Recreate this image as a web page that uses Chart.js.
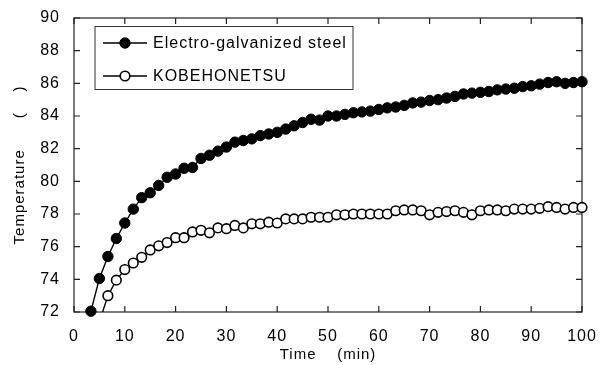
<!DOCTYPE html>
<html>
<head>
<meta charset="utf-8">
<script src="https://cdn.jsdelivr.net/npm/chart.js@4.4.1/dist/chart.umd.min.js"></script>
<style>
  html, body { margin: 0; padding: 0; background: #fff; }
  #wrap { width: 609px; height: 365px; }
</style>
</head>
<body>
<div id="wrap"><canvas id="tempChart"></canvas></div>
<script>
// Time (min), one reading every 100 s
const times = [3.33, 5, 6.67, 8.33, 10, 11.67, 13.33, 15, 16.67, 18.33, 20, 21.67, 23.33, 25, 26.67, 28.33,
  30, 31.67, 33.33, 35, 36.67, 38.33, 40, 41.67, 43.33, 45, 46.67, 48.33, 50, 51.67, 53.33, 55, 56.67, 58.33,
  60, 61.67, 63.33, 65, 66.67, 68.33, 70, 71.67, 73.33, 75, 76.67, 78.33, 80, 81.67, 83.33, 85, 86.67, 88.33,
  90, 91.67, 93.33, 95, 96.67, 98.33, 100];

// Temperature readings
const electroGalvanized = [72.05, 74.05, 75.4, 76.5, 77.45, 78.3, 79.0, 79.3, 79.75, 80.25, 80.45, 80.8, 80.85,
  81.4, 81.6, 81.85, 82.1, 82.4, 82.5, 82.6, 82.8, 82.9, 83.0, 83.2, 83.4, 83.6, 83.8, 83.75, 84.0, 84.0,
  84.1, 84.2, 84.25, 84.3, 84.4, 84.5, 84.55, 84.65, 84.8, 84.85, 84.95, 85.0, 85.1, 85.2, 85.35, 85.4, 85.45,
  85.5, 85.6, 85.65, 85.7, 85.8, 85.85, 85.95, 86.05, 86.1, 86.0, 86.05, 86.1];
const kobeHonetsu = [null, 71.4, 73.0, 73.95, 74.6, 75.0, 75.35, 75.8, 76.05, 76.25, 76.55, 76.55, 76.9, 77.0,
  76.85, 77.15, 77.1, 77.3, 77.15, 77.4, 77.4, 77.5, 77.45, 77.7, 77.7, 77.7, 77.8, 77.8, 77.8, 77.95,
  77.95, 78.0, 78.0, 78.0, 78.0, 78.0, 78.2, 78.25, 78.25, 78.2, 77.95, 78.1, 78.15, 78.2, 78.1, 77.95, 78.2,
  78.25, 78.25, 78.2, 78.3, 78.3, 78.3, 78.35, 78.45, 78.4, 78.3, 78.4, 78.4];

const xTicks = [0, 10, 20, 30, 40, 50, 60, 70, 80, 90, 100];
const yTicks = [72, 74, 76, 78, 80, 82, 84, 86, 88, 90];
const seriesNames = ["Electro-galvanized steel", "KOBEHONETSU"];

const FONT = "'Liberation Sans', Arial, sans-serif";

// frame with inward ticks on all four sides, plus the boxed legend inside the plot
const frameAndLegend = {
  id: "frameAndLegend",
  beforeLayout(chart) { chart.ctx.letterSpacing = "1px"; },
  beforeDraw(chart) { chart.ctx.letterSpacing = "1px"; },
  beforeDatasetsDraw(chart) {
    const { ctx, chartArea: a, scales } = chart;
    ctx.save();
    ctx.strokeStyle = "#222";
    ctx.lineWidth = 1.2;
    ctx.strokeRect(a.left, a.top, a.right - a.left, a.bottom - a.top);
    ctx.beginPath();
    xTicks.forEach((v) => {
      const x = scales.x.getPixelForValue(v);
      ctx.moveTo(x, a.bottom); ctx.lineTo(x, a.bottom - 6);
      ctx.moveTo(x, a.top); ctx.lineTo(x, a.top + 6);
    });
    yTicks.forEach((v) => {
      const y = scales.y.getPixelForValue(v);
      ctx.moveTo(a.left, y); ctx.lineTo(a.left + 6, y);
      ctx.moveTo(a.right, y); ctx.lineTo(a.right - 6, y);
    });
    ctx.stroke();
    ctx.restore();
  },
  afterDraw(chart) {
    const { ctx, chartArea: a } = chart;
    ctx.save();
    ctx.letterSpacing = "1px";
    ctx.fillStyle = "#fff";
    ctx.fillRect(a.left + 21, a.top + 8.5, 258, 63);
    ctx.strokeStyle = "#333";
    ctx.lineWidth = 1;
    ctx.strokeRect(a.left + 21, a.top + 8.5, 258, 63);
    chart.data.datasets.forEach((ds, i) => {
      const y = a.top + 25 + i * 33;
      ctx.strokeStyle = "#000";
      ctx.lineWidth = 1.4;
      ctx.beginPath();
      ctx.moveTo(a.left + 29, y);
      ctx.lineTo(a.left + 73, y);
      ctx.stroke();
      ctx.beginPath();
      ctx.arc(a.left + 51, y, ds.pointRadius, 0, Math.PI * 2);
      ctx.fillStyle = ds.pointBackgroundColor;
      ctx.fill();
      ctx.lineWidth = ds.pointBorderWidth;
      ctx.stroke();
      ctx.fillStyle = "#000";
      ctx.font = "16px " + FONT;
      ctx.textBaseline = "middle";
      ctx.textAlign = "left";
      ctx.fillText(ds.label, a.left + 79, y + 1);
    });
    ctx.restore();
  },
};

const ctx = document.getElementById("tempChart").getContext("2d");
new Chart(ctx, {
  type: "line",
  data: {
    datasets: [
      {
        label: seriesNames[0],
        data: times.map((t, i) => ({ x: t, y: electroGalvanized[i] })),
        borderColor: "#000",
        borderWidth: 1.4,
        pointRadius: 5.2,
        pointBackgroundColor: "#000",
        pointBorderColor: "#000",
        pointBorderWidth: 1,
        tension: 0,
        clip: 8,
      },
      {
        label: seriesNames[1],
        data: times.map((t, i) => ({ x: t, y: kobeHonetsu[i] })),
        borderColor: "#000",
        borderWidth: 1.4,
        pointRadius: 4.8,
        pointBackgroundColor: "#fff",
        pointBorderColor: "#000",
        pointBorderWidth: 1.6,
        tension: 0,
        clip: { left: 8, right: 8, top: 8, bottom: 0 },
      },
    ],
  },
  options: {
    responsive: true,
    maintainAspectRatio: false,
    animation: false,
    layout: { padding: { top: 18, right: 27, left: 0, bottom: 0 } },
    plugins: {
      legend: { display: false },
      tooltip: { enabled: false },
    },
    scales: {
      x: {
        type: "linear",
        min: 0,
        max: 100,
        afterBuildTicks: (s) => { s.ticks = xTicks.map((v) => ({ value: v })); },
        afterFit: (s) => { s.height = 53; },
        grid: { display: false },
        border: { display: false },
        ticks: { font: { family: FONT, size: 16 }, color: "#000", padding: 7, maxRotation: 0, autoSkip: false },
        title: {
          display: true,
          text: "Time    (min)",
          font: { family: FONT, size: 15 },
          color: "#000",
          padding: { top: 0, bottom: 1 },
        },
      },
      y: {
        min: 72,
        max: 90,
        afterBuildTicks: (s) => { s.ticks = yTicks.map((v) => ({ value: v })); },
        afterFit: (s) => { s.width = 74; },
        grid: { display: false },
        border: { display: false },
        ticks: { font: { family: FONT, size: 16 }, color: "#000", padding: 6 },
        title: {
          display: true,
          text: "Temperature      (    )",
          font: { family: FONT, size: 15 },
          color: "#000",
          padding: { top: 11, bottom: 0 },
        },
      },
    },
  },
  plugins: [frameAndLegend],
});
</script>
</body>
</html>
